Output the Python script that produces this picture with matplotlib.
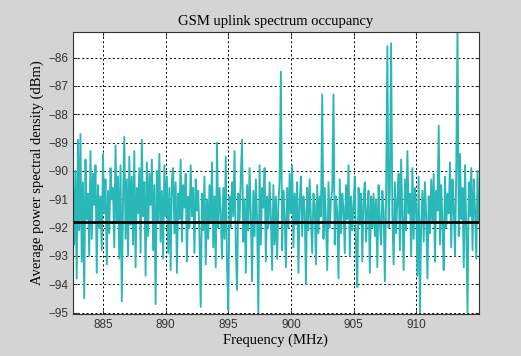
import numpy as np
import matplotlib.pyplot as plt

# frequency grid (MHz) and averaged PSD (dBm) in 0.1 MHz steps
f_start, f_step = 882.6, 0.1

psd_a = [-90.2, -92.6, -90.0, -93.8, -88.9, -92.1, -88.7, -93.2, -90.4, -94.5,
         -89.6, -91.7, -90.8, -93.0, -89.3, -92.4, -90.1, -91.2, -89.8, -93.6,
         -90.5, -92.0, -90.9, -92.8, -89.4, -91.5, -90.3, -93.3, -90.7, -92.2,
         -89.9, -91.0, -90.6, -92.7, -89.1, -91.8, -90.2, -93.1, -89.8, -94.6]
psd_b = [-91.0, -88.8, -92.4, -90.3, -93.0, -89.5, -91.9, -90.2, -92.6, -89.3,
         -93.4, -90.6, -91.5, -89.9, -92.9, -88.9, -91.6, -90.4, -93.7, -89.7,
         -92.3, -90.1, -91.2, -89.6, -92.8, -90.5, -94.7, -90.0, -91.8, -89.4,
         -92.5, -90.7, -93.1, -89.8, -91.6, -90.2, -92.9, -90.6, -93.5, -90.3]
psd_c = [-89.9, -92.2, -90.4, -93.6, -90.8, -91.7, -89.6, -92.5, -90.5, -91.3,
         -90.1, -93.2, -90.9, -92.0, -89.8, -91.6, -90.6, -92.9, -90.3, -91.4,
         -90.7, -92.3, -94.8, -90.8, -92.1, -90.2, -93.3, -91.0, -92.4, -90.5,
         -91.8, -89.7, -92.7, -90.9, -93.4, -89.0, -92.0, -90.6, -91.5, -93.1]
psd_d = [-90.6, -92.4, -89.5, -93.3, -94.9, -90.9, -92.0, -90.4, -91.6, -89.3,
         -92.7, -94.2, -90.8, -91.8, -90.2, -88.9, -92.5, -91.0, -93.6, -90.5,
         -92.1, -89.9, -91.5, -93.9, -90.7, -92.3, -90.3, -91.7, -95.0, -89.8,
         -92.6, -90.6, -91.3, -89.9, -93.2, -90.9, -92.0, -90.4, -91.6, -93.5]
psd_e = [-90.5, -92.6, -90.9, -93.1, -91.2, -90.3, -86.5, -92.8, -90.7, -91.6,
         -93.4, -90.6, -92.0, -90.1, -91.5, -89.8, -92.7, -90.8, -91.9, -90.4,
         -93.6, -91.1, -90.2, -92.3, -90.9, -91.4, -94.0, -90.6, -92.1, -90.3,
         -91.7, -92.9, -90.8, -91.2, -93.3, -90.5, -92.2, -90.9, -91.6, -87.3]
psd_f = [-92.4, -90.6, -91.8, -93.5, -90.4, -92.0, -91.0, -90.7, -87.3, -92.6,
         -90.9, -91.5, -93.8, -90.3, -92.2, -90.8, -91.3, -92.9, -90.5, -91.7,
         -89.8, -93.0, -90.9, -92.1, -91.2, -90.2, -92.7, -94.1, -90.6, -91.9,
         -90.8, -93.2, -91.0, -90.4, -92.5, -91.4, -90.7, -93.6, -90.9, -92.0]
psd_g = [-90.8, -92.3, -91.0, -93.4, -90.5, -91.8, -92.6, -90.7, -91.4, -93.9,
         -90.9, -85.6, -92.0, -90.6, -85.5, -91.6, -93.3, -90.4, -92.2, -91.0,
         -90.1, -92.8, -89.6, -91.7, -93.5, -90.3, -92.1, -89.3, -91.5, -90.8,
         -93.0, -89.9, -92.4, -90.6, -91.3, -93.7, -90.2, -95.0, -91.9, -90.7]
psd_h = [-92.5, -90.4, -91.6, -93.8, -90.9, -92.2, -90.3, -91.8, -90.1, -93.2,
         -90.7, -91.4, -88.4, -92.6, -90.5, -91.9, -93.5, -90.2, -92.0, -90.8,
         -91.5, -89.7, -92.7, -90.3, -91.2, -93.0, -90.0, -84.9, -92.3, -89.4,
         -91.7, -90.6, -93.4, -89.8, -92.1, -95.0, -90.4, -91.6, -89.9, -92.8,
         -90.3, -91.4, -93.1, -90.0, -91.8]

mean_level = -91.8
xticks = [885, 890, 895, 900, 905, 910]
yticks = [-95, -94, -93, -92, -91, -90, -89, -88, -87, -86]

psd = np.array(psd_a + psd_b + psd_c + psd_d + psd_e + psd_f + psd_g + psd_h)
freq = f_start + f_step * np.arange(len(psd))

fig = plt.figure(figsize=(5.21, 3.56), dpi=100, facecolor='#d4d4d4')
ax = fig.add_axes([0.140, 0.118, 0.779, 0.792])
ax.set_facecolor('white')

ax.plot(freq, psd, color='#2ab7b7', lw=1.35)
ax.axhline(mean_level, color='black', lw=2)

ax.set_xlim(882.6, 915.0)
ax.set_ylim(-95.05, -85.1)
ax.set_xticks(xticks)
ax.set_yticks(yticks)
ax.grid(True, color='black', linestyle=(0, (2, 2.5)), lw=0.7)
ax.tick_params(direction='in', length=3, top=True, right=True,
               labelsize=8.5, labelfontfamily='Liberation Sans', colors='#333333')
for s in ax.spines.values():
    s.set_linewidth(0.8)
    s.set_color('#333333')

ax.set_title('GSM uplink spectrum occupancy', family='Liberation Serif',
             fontsize=10.5, pad=5)
ax.set_xlabel('Frequency (MHz)', family='Liberation Serif', fontsize=10.5, labelpad=2)
ax.set_ylabel('Average power spectral density (dBm)', family='Liberation Serif',
              fontsize=10.5, labelpad=3)

fig.savefig('out.png', dpi=100, facecolor=fig.get_facecolor())
